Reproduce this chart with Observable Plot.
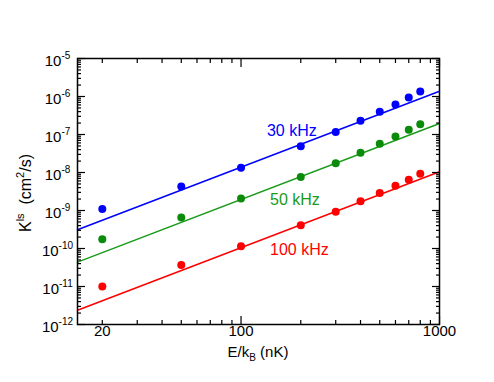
<!DOCTYPE html>
<html>
<head>
<meta charset="utf-8">
<script src="https://cdn.jsdelivr.net/npm/d3@7"></script>
<script src="https://cdn.jsdelivr.net/npm/@observablehq/plot@0.6"></script>
<style>
  html, body { margin: 0; padding: 0; background: white; }
</style>
</head>
<body>
<div id="chart"></div>
<script>
// ---- data ----
const energies = [20, 50, 100, 200, 300, 400, 500, 600, 700, 800]; // E/kB (nK)
const seriesNames = ["30 kHz", "50 kHz", "100 kHz"];
const k30 = [1.1e-9, 4.3e-9, 1.33e-8, 4.9e-8, 1.17e-7, 2.3e-7, 3.95e-7, 6.2e-7, 9.4e-7, 1.36e-6];
const k50 = [1.76e-10, 6.5e-10, 2.07e-9, 7.6e-9, 1.76e-8, 3.3e-8, 5.7e-8, 8.9e-8, 1.33e-7, 1.86e-7];
const k100 = [1.0e-11, 3.7e-11, 1.15e-10, 4.1e-10, 9.3e-10, 1.76e-9, 2.9e-9, 4.5e-9, 6.4e-9, 9.3e-9];
// power-law fits K = A * E^p
const fitPrefactor = [1.38e-12, 1.95e-13, 1.05e-14];
const fitExponent = 2;
// label anchor points (data units)
const labelE = [135, 140, 140];
const labelK = [1.27e-7, 1.95e-9, 9.3e-11];
// axis ticks
const xDomain = [15, 1000];
const yDomain = [1e-12, 1e-5];
const xTickLabels = [20, 100, 1000];
const xMajorTicks = [100, 1000];
const xMinorTicks = [20, 30, 40, 50, 60, 70, 80, 90, 200, 300, 400, 500, 600, 700, 800, 900];
const yExponents = [-12, -11, -10, -9, -8, -7, -6, -5];

// ---- styles ----
const dotColors = ["#0000ff", "#0a8c0a", "#ff0000"];
const lineColors = ["#0000ff", "#1a9a1a", "#ff0000"];

// ---- build tables ----
const allK = [k30, k50, k100];
const points = [];
allK.forEach((ks, i) => ks.forEach((k, j) => points.push({series: seriesNames[i], E: energies[j], K: k, i})));
const fitLines = [];
fitPrefactor.forEach((A, i) => xDomain.forEach(E => fitLines.push({series: seriesNames[i], E, K: A * Math.pow(E, fitExponent), i})));
const labels = seriesNames.map((s, i) => ({series: s, E: labelE[i], K: labelK[i], i}));
const yMajor = yExponents.map(e => Math.pow(10, e));
const yMinor = [];
yExponents.slice(0, -1).forEach(e => { for (let m = 2; m <= 9; m++) yMinor.push(m * Math.pow(10, e)); });

const tk = {tickFormat: () => "", label: null, strokeWidth: 1.2};
// inward ticks: outward tick of length s shifted back inside by s
const inX = (ticks, s) => [
  Plot.axisX(ticks, {anchor: "bottom", tickSize: s, dy: -s, ...tk}),
  Plot.axisX(ticks, {anchor: "top", tickSize: s, dy: s, ...tk})
];
const inY = (ticks, s) => [
  Plot.axisY(ticks, {anchor: "left", tickSize: s, dx: s, ...tk}),
  Plot.axisY(ticks, {anchor: "right", tickSize: s, dx: -s, ...tk})
];

const plot = Plot.plot({
  width: 494,
  height: 382,
  marginLeft: 77,
  marginRight: 55,
  marginTop: 58,
  marginBottom: 58,
  style: {fontFamily: "'Liberation Sans', Arial, sans-serif", fontSize: "15px", background: "white", color: "black"},
  x: {type: "log", domain: xDomain},
  y: {type: "log", domain: yDomain},
  marks: [
    Plot.line(fitLines, {x: "E", y: "K", z: "series", stroke: d => lineColors[d.i], strokeWidth: 1.5}),
    Plot.dot(points, {x: "E", y: "K", fill: d => dotColors[d.i], r: 4}),
    Plot.text(labels, {x: "E", y: "K", text: "series", fill: d => lineColors[d.i], textAnchor: "start", fontSize: 16}),
    ...inX(xMinorTicks, 4),
    ...inX(xMajorTicks, 8),
    ...inY(yMinor, 4),
    ...inY(yMajor, 8),
    // tick labels
    Plot.text(xTickLabels, {x: d => d, frameAnchor: "bottom", dy: 11, text: d => String(d), fontSize: 15, fill: "black"}),
    Plot.text(yExponents, {y: d => Math.pow(10, d), frameAnchor: "left", dx: -20, dy: 3, text: d => "10^" + d, textAnchor: "middle", fontSize: 15, fill: "black"}),
    Plot.frame({stroke: "black", strokeWidth: 1.5})
  ]
});

const svg = d3.select(plot);
// superscripts in y tick labels
svg.selectAll("text").filter(function() { return this.textContent.includes("^"); }).each(function() {
  const t = d3.select(this);
  const [base, exp] = t.text().split("^");
  t.text(null);
  t.append("tspan").text(base);
  t.append("tspan").attr("font-size", 10).attr("dy", -7).text(exp);
});

// axis titles
const xt = svg.append("text")
  .attr("x", 258).attr("y", 357)
  .attr("text-anchor", "middle")
  .attr("font-size", 15)
  .attr("fill", "black");
xt.append("tspan").text("E/k");
xt.append("tspan").attr("font-size", 10).attr("dy", 4).text("B");
xt.append("tspan").attr("dy", -4).text(" (nK)");

const yt = svg.append("text")
  .attr("transform", "translate(31,193) rotate(-90)")
  .attr("text-anchor", "middle")
  .attr("font-size", 16)
  .attr("fill", "black");
yt.append("tspan").text("K");
yt.append("tspan").attr("font-size", 11).attr("dy", -7).text("ls");
yt.append("tspan").attr("dy", 7).text("\u00a0\u00a0(cm");
yt.append("tspan").attr("font-size", 11).attr("dy", -7).text("2");
yt.append("tspan").attr("dy", 7).text("/s)");

document.getElementById("chart").appendChild(plot);
</script>
</body>
</html>
